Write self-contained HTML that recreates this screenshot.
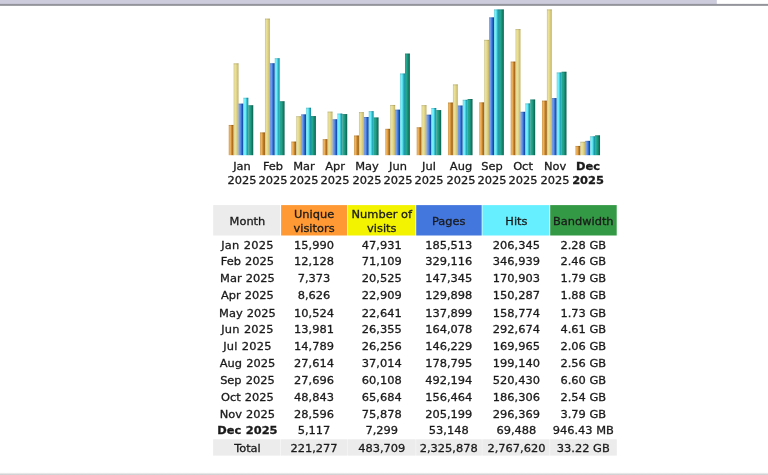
<!DOCTYPE html>
<html lang="en"><head><meta charset="utf-8"><title>Statistics - Monthly history</title>
<style>
html,body{margin:0;padding:0;background:#fff;}
body{width:768px;height:475px;position:relative;overflow:hidden;font-family:"DejaVu Sans","Liberation Sans",sans-serif;font-size:11.0px;color:#1a1a1a;-webkit-text-stroke:0.3px #1a1a1a;}
.abs{position:absolute;}
.c{position:absolute;text-align:center;white-space:nowrap;}
.lbl{position:absolute;width:40px;text-align:center;line-height:14px;white-space:nowrap;transform:scaleX(1.036);}
.hd{position:absolute;text-align:center;}
.hd span{position:absolute;left:0;right:0;line-height:14px;white-space:nowrap;transform:scaleX(1.036);}
.cell{position:absolute;text-align:center;line-height:17px;height:17px;white-space:nowrap;}
.cell span{display:block;transform:scaleX(1.036);}
b,.b{font-weight:bold;}
#wrap{position:absolute;left:0;top:0;width:768px;height:475px;overflow:hidden;}
</style></head><body><div id="wrap">
<svg class="abs" style="left:0;top:0" width="768" height="475" viewBox="0 0 768 475">
<defs>
<linearGradient id="gu" x1="0" y1="0" x2="1" y2="0"><stop offset="0" stop-color="#f0b662"/><stop offset="0.35" stop-color="#eeb05a"/><stop offset="0.56" stop-color="#cc8c34"/><stop offset="0.8" stop-color="#aa6a1a"/><stop offset="1" stop-color="#a06414"/></linearGradient>
<linearGradient id="gv" x1="0" y1="0" x2="1" y2="0"><stop offset="0" stop-color="#ebe3a0"/><stop offset="0.4" stop-color="#e9df94"/><stop offset="0.7" stop-color="#d8cc80"/><stop offset="1" stop-color="#c0b068"/></linearGradient>
<linearGradient id="gp" x1="0" y1="0" x2="1" y2="0"><stop offset="0" stop-color="#84acf2"/><stop offset="0.3" stop-color="#6e9aec"/><stop offset="0.58" stop-color="#3870d4"/><stop offset="0.82" stop-color="#1450b0"/><stop offset="1" stop-color="#0c449c"/></linearGradient>
<linearGradient id="gh" x1="0" y1="0" x2="1" y2="0"><stop offset="0" stop-color="#84f4ff"/><stop offset="0.42" stop-color="#68ecfa"/><stop offset="0.62" stop-color="#3cc4d4"/><stop offset="0.85" stop-color="#1c9cac"/><stop offset="1" stop-color="#168e9e"/></linearGradient>
<linearGradient id="gk" x1="0" y1="0" x2="1" y2="0"><stop offset="0" stop-color="#2cb49c"/><stop offset="0.35" stop-color="#22a48c"/><stop offset="0.65" stop-color="#178670"/><stop offset="1" stop-color="#0c5e4c"/></linearGradient>
<linearGradient id="gtl" x1="0" y1="0" x2="0" y2="1"><stop offset="0" stop-color="#93939b" stop-opacity="0"/><stop offset="0.38" stop-color="#93939b" stop-opacity="0.3"/><stop offset="0.47" stop-color="#93939b"/><stop offset="0.75" stop-color="#93939b"/><stop offset="1" stop-color="#93939b" stop-opacity="0"/></linearGradient>
<linearGradient id="gbl" x1="0" y1="0" x2="0" y2="1"><stop offset="0" stop-color="#ffffff"/><stop offset="1" stop-color="#c8c8cc"/></linearGradient>
</defs>
<rect x="0" y="0" width="716.8" height="4.6" fill="#ccccdd"/>
<rect x="0" y="3" width="768" height="3.2" fill="url(#gtl)"/>
<rect x="0" y="472.3" width="768" height="2.7" fill="url(#gbl)"/>
<rect x="213.20" y="205.10" width="66.90" height="30.40" fill="#ececec"/>
<rect x="281.10" y="205.10" width="66.10" height="30.40" fill="#ff9933"/>
<rect x="348.00" y="205.10" width="67.50" height="30.40" fill="#f3f300"/>
<rect x="416.20" y="205.10" width="65.50" height="30.40" fill="#4477dd"/>
<rect x="482.40" y="205.10" width="66.90" height="30.40" fill="#66f0ff"/>
<rect x="550.20" y="205.10" width="66.50" height="30.40" fill="#339944"/>
<rect x="213.20" y="439.40" width="403.50" height="16.10" fill="#f6f6f6"/>
<rect x="213.20" y="439.40" width="66.90" height="16.10" fill="#ececec"/>
<rect x="281.10" y="439.40" width="66.10" height="16.10" fill="#ececec"/>
<rect x="348.00" y="439.40" width="67.50" height="16.10" fill="#ececec"/>
<rect x="416.20" y="439.40" width="65.50" height="16.10" fill="#ececec"/>
<rect x="482.40" y="439.40" width="66.90" height="16.10" fill="#ececec"/>
<rect x="550.20" y="439.40" width="66.50" height="16.10" fill="#ececec"/>
<rect x="228.75" y="124.95" width="4.90" height="30.25" fill="url(#gu)"/>
<rect x="228.75" y="124.95" width="4.90" height="1" fill="#000" fill-opacity="0.13"/>
<rect x="228.75" y="124.95" width="0.6" height="30.25" fill="#000" fill-opacity="0.14"/>
<rect x="233.65" y="63.32" width="4.90" height="91.88" fill="url(#gv)"/>
<rect x="233.65" y="63.32" width="4.90" height="1" fill="#000" fill-opacity="0.13"/>
<rect x="233.65" y="63.32" width="0.6" height="91.88" fill="#000" fill-opacity="0.14"/>
<rect x="238.55" y="103.61" width="4.90" height="51.59" fill="url(#gp)"/>
<rect x="238.55" y="103.61" width="4.90" height="1" fill="#000" fill-opacity="0.13"/>
<rect x="238.55" y="103.61" width="0.6" height="51.59" fill="#000" fill-opacity="0.14"/>
<rect x="243.45" y="97.75" width="4.90" height="57.45" fill="url(#gh)"/>
<rect x="243.45" y="97.75" width="4.90" height="1" fill="#000" fill-opacity="0.13"/>
<rect x="243.45" y="97.75" width="0.6" height="57.45" fill="#000" fill-opacity="0.14"/>
<rect x="248.35" y="105.23" width="4.90" height="49.97" fill="url(#gk)"/>
<rect x="248.35" y="105.23" width="4.90" height="1" fill="#000" fill-opacity="0.13"/>
<rect x="248.35" y="105.23" width="0.6" height="49.97" fill="#000" fill-opacity="0.14"/>
<rect x="260.07" y="132.40" width="4.90" height="22.80" fill="url(#gu)"/>
<rect x="260.07" y="132.40" width="4.90" height="1" fill="#000" fill-opacity="0.13"/>
<rect x="260.07" y="132.40" width="0.6" height="22.80" fill="#000" fill-opacity="0.14"/>
<rect x="264.97" y="18.60" width="4.90" height="136.60" fill="url(#gv)"/>
<rect x="264.97" y="18.60" width="4.90" height="1" fill="#000" fill-opacity="0.13"/>
<rect x="264.97" y="18.60" width="0.6" height="136.60" fill="#000" fill-opacity="0.14"/>
<rect x="269.88" y="63.22" width="4.90" height="91.98" fill="url(#gp)"/>
<rect x="269.88" y="63.22" width="4.90" height="1" fill="#000" fill-opacity="0.13"/>
<rect x="269.88" y="63.22" width="0.6" height="91.98" fill="#000" fill-opacity="0.14"/>
<rect x="274.77" y="58.20" width="4.90" height="97.00" fill="url(#gh)"/>
<rect x="274.77" y="58.20" width="4.90" height="1" fill="#000" fill-opacity="0.13"/>
<rect x="274.77" y="58.20" width="0.6" height="97.00" fill="#000" fill-opacity="0.14"/>
<rect x="279.68" y="101.23" width="4.90" height="53.97" fill="url(#gk)"/>
<rect x="279.68" y="101.23" width="4.90" height="1" fill="#000" fill-opacity="0.13"/>
<rect x="279.68" y="101.23" width="0.6" height="53.97" fill="#000" fill-opacity="0.14"/>
<rect x="291.40" y="141.57" width="4.90" height="13.63" fill="url(#gu)"/>
<rect x="291.40" y="141.57" width="4.90" height="1" fill="#000" fill-opacity="0.13"/>
<rect x="291.40" y="141.57" width="0.6" height="13.63" fill="#000" fill-opacity="0.14"/>
<rect x="296.30" y="116.20" width="4.90" height="39.00" fill="url(#gv)"/>
<rect x="296.30" y="116.20" width="4.90" height="1" fill="#000" fill-opacity="0.13"/>
<rect x="296.30" y="116.20" width="0.6" height="39.00" fill="#000" fill-opacity="0.14"/>
<rect x="301.20" y="114.35" width="4.90" height="40.85" fill="url(#gp)"/>
<rect x="301.20" y="114.35" width="4.90" height="1" fill="#000" fill-opacity="0.13"/>
<rect x="301.20" y="114.35" width="0.6" height="40.85" fill="#000" fill-opacity="0.14"/>
<rect x="306.10" y="107.72" width="4.90" height="47.48" fill="url(#gh)"/>
<rect x="306.10" y="107.72" width="4.90" height="1" fill="#000" fill-opacity="0.13"/>
<rect x="306.10" y="107.72" width="0.6" height="47.48" fill="#000" fill-opacity="0.14"/>
<rect x="311.00" y="116.09" width="4.90" height="39.11" fill="url(#gk)"/>
<rect x="311.00" y="116.09" width="4.90" height="1" fill="#000" fill-opacity="0.13"/>
<rect x="311.00" y="116.09" width="0.6" height="39.11" fill="#000" fill-opacity="0.14"/>
<rect x="322.73" y="139.16" width="4.90" height="16.04" fill="url(#gu)"/>
<rect x="322.73" y="139.16" width="4.90" height="1" fill="#000" fill-opacity="0.13"/>
<rect x="322.73" y="139.16" width="0.6" height="16.04" fill="#000" fill-opacity="0.14"/>
<rect x="327.62" y="111.60" width="4.90" height="43.60" fill="url(#gv)"/>
<rect x="327.62" y="111.60" width="4.90" height="1" fill="#000" fill-opacity="0.13"/>
<rect x="327.62" y="111.60" width="0.6" height="43.60" fill="#000" fill-opacity="0.14"/>
<rect x="332.53" y="119.26" width="4.90" height="35.94" fill="url(#gp)"/>
<rect x="332.53" y="119.26" width="4.90" height="1" fill="#000" fill-opacity="0.13"/>
<rect x="332.53" y="119.26" width="0.6" height="35.94" fill="#000" fill-opacity="0.14"/>
<rect x="337.43" y="113.52" width="4.90" height="41.68" fill="url(#gh)"/>
<rect x="337.43" y="113.52" width="4.90" height="1" fill="#000" fill-opacity="0.13"/>
<rect x="337.43" y="113.52" width="0.6" height="41.68" fill="#000" fill-opacity="0.14"/>
<rect x="342.33" y="114.10" width="4.90" height="41.10" fill="url(#gk)"/>
<rect x="342.33" y="114.10" width="4.90" height="1" fill="#000" fill-opacity="0.13"/>
<rect x="342.33" y="114.10" width="0.6" height="41.10" fill="#000" fill-opacity="0.14"/>
<rect x="354.05" y="135.49" width="4.90" height="19.71" fill="url(#gu)"/>
<rect x="354.05" y="135.49" width="4.90" height="1" fill="#000" fill-opacity="0.13"/>
<rect x="354.05" y="135.49" width="0.6" height="19.71" fill="#000" fill-opacity="0.14"/>
<rect x="358.95" y="112.12" width="4.90" height="43.08" fill="url(#gv)"/>
<rect x="358.95" y="112.12" width="4.90" height="1" fill="#000" fill-opacity="0.13"/>
<rect x="358.95" y="112.12" width="0.6" height="43.08" fill="#000" fill-opacity="0.14"/>
<rect x="363.85" y="117.01" width="4.90" height="38.19" fill="url(#gp)"/>
<rect x="363.85" y="117.01" width="4.90" height="1" fill="#000" fill-opacity="0.13"/>
<rect x="363.85" y="117.01" width="0.6" height="38.19" fill="#000" fill-opacity="0.14"/>
<rect x="368.75" y="111.14" width="4.90" height="44.06" fill="url(#gh)"/>
<rect x="368.75" y="111.14" width="4.90" height="1" fill="#000" fill-opacity="0.13"/>
<rect x="368.75" y="111.14" width="0.6" height="44.06" fill="#000" fill-opacity="0.14"/>
<rect x="373.65" y="117.43" width="4.90" height="37.77" fill="url(#gk)"/>
<rect x="373.65" y="117.43" width="4.90" height="1" fill="#000" fill-opacity="0.13"/>
<rect x="373.65" y="117.43" width="0.6" height="37.77" fill="#000" fill-opacity="0.14"/>
<rect x="385.38" y="128.82" width="4.90" height="26.38" fill="url(#gu)"/>
<rect x="385.38" y="128.82" width="4.90" height="1" fill="#000" fill-opacity="0.13"/>
<rect x="385.38" y="128.82" width="0.6" height="26.38" fill="#000" fill-opacity="0.14"/>
<rect x="390.27" y="104.95" width="4.90" height="50.25" fill="url(#gv)"/>
<rect x="390.27" y="104.95" width="4.90" height="1" fill="#000" fill-opacity="0.13"/>
<rect x="390.27" y="104.95" width="0.6" height="50.25" fill="#000" fill-opacity="0.14"/>
<rect x="395.18" y="109.64" width="4.90" height="45.56" fill="url(#gp)"/>
<rect x="395.18" y="109.64" width="4.90" height="1" fill="#000" fill-opacity="0.13"/>
<rect x="395.18" y="109.64" width="0.6" height="45.56" fill="#000" fill-opacity="0.14"/>
<rect x="400.07" y="73.47" width="4.90" height="81.73" fill="url(#gh)"/>
<rect x="400.07" y="73.47" width="4.90" height="1" fill="#000" fill-opacity="0.13"/>
<rect x="400.07" y="73.47" width="0.6" height="81.73" fill="#000" fill-opacity="0.14"/>
<rect x="404.98" y="53.54" width="4.90" height="101.66" fill="url(#gk)"/>
<rect x="404.98" y="53.54" width="4.90" height="1" fill="#000" fill-opacity="0.13"/>
<rect x="404.98" y="53.54" width="0.6" height="101.66" fill="#000" fill-opacity="0.14"/>
<rect x="416.70" y="127.27" width="4.90" height="27.93" fill="url(#gu)"/>
<rect x="416.70" y="127.27" width="4.90" height="1" fill="#000" fill-opacity="0.13"/>
<rect x="416.70" y="127.27" width="0.6" height="27.93" fill="#000" fill-opacity="0.14"/>
<rect x="421.60" y="105.14" width="4.90" height="50.06" fill="url(#gv)"/>
<rect x="421.60" y="105.14" width="4.90" height="1" fill="#000" fill-opacity="0.13"/>
<rect x="421.60" y="105.14" width="0.6" height="50.06" fill="#000" fill-opacity="0.14"/>
<rect x="426.50" y="114.66" width="4.90" height="40.54" fill="url(#gp)"/>
<rect x="426.50" y="114.66" width="4.90" height="1" fill="#000" fill-opacity="0.13"/>
<rect x="426.50" y="114.66" width="0.6" height="40.54" fill="#000" fill-opacity="0.14"/>
<rect x="431.40" y="107.99" width="4.90" height="47.21" fill="url(#gh)"/>
<rect x="431.40" y="107.99" width="4.90" height="1" fill="#000" fill-opacity="0.13"/>
<rect x="431.40" y="107.99" width="0.6" height="47.21" fill="#000" fill-opacity="0.14"/>
<rect x="436.30" y="110.11" width="4.90" height="45.09" fill="url(#gk)"/>
<rect x="436.30" y="110.11" width="4.90" height="1" fill="#000" fill-opacity="0.13"/>
<rect x="436.30" y="110.11" width="0.6" height="45.09" fill="#000" fill-opacity="0.14"/>
<rect x="448.02" y="102.52" width="4.90" height="52.68" fill="url(#gu)"/>
<rect x="448.02" y="102.52" width="4.90" height="1" fill="#000" fill-opacity="0.13"/>
<rect x="448.02" y="102.52" width="0.6" height="52.68" fill="#000" fill-opacity="0.14"/>
<rect x="452.92" y="84.38" width="4.90" height="70.82" fill="url(#gv)"/>
<rect x="452.92" y="84.38" width="4.90" height="1" fill="#000" fill-opacity="0.13"/>
<rect x="452.92" y="84.38" width="0.6" height="70.82" fill="#000" fill-opacity="0.14"/>
<rect x="457.82" y="105.50" width="4.90" height="49.70" fill="url(#gp)"/>
<rect x="457.82" y="105.50" width="4.90" height="1" fill="#000" fill-opacity="0.13"/>
<rect x="457.82" y="105.50" width="0.6" height="49.70" fill="#000" fill-opacity="0.14"/>
<rect x="462.72" y="99.78" width="4.90" height="55.42" fill="url(#gh)"/>
<rect x="462.72" y="99.78" width="4.90" height="1" fill="#000" fill-opacity="0.13"/>
<rect x="462.72" y="99.78" width="0.6" height="55.42" fill="#000" fill-opacity="0.14"/>
<rect x="467.62" y="99.01" width="4.90" height="56.19" fill="url(#gk)"/>
<rect x="467.62" y="99.01" width="4.90" height="1" fill="#000" fill-opacity="0.13"/>
<rect x="467.62" y="99.01" width="0.6" height="56.19" fill="#000" fill-opacity="0.14"/>
<rect x="479.35" y="102.36" width="4.90" height="52.84" fill="url(#gu)"/>
<rect x="479.35" y="102.36" width="4.90" height="1" fill="#000" fill-opacity="0.13"/>
<rect x="479.35" y="102.36" width="0.6" height="52.84" fill="#000" fill-opacity="0.14"/>
<rect x="484.25" y="39.83" width="4.90" height="115.37" fill="url(#gv)"/>
<rect x="484.25" y="39.83" width="4.90" height="1" fill="#000" fill-opacity="0.13"/>
<rect x="484.25" y="39.83" width="0.6" height="115.37" fill="#000" fill-opacity="0.14"/>
<rect x="489.15" y="17.34" width="4.90" height="137.86" fill="url(#gp)"/>
<rect x="489.15" y="17.34" width="4.90" height="1" fill="#000" fill-opacity="0.13"/>
<rect x="489.15" y="17.34" width="0.6" height="137.86" fill="#000" fill-opacity="0.14"/>
<rect x="494.05" y="9.40" width="4.90" height="145.80" fill="url(#gh)"/>
<rect x="494.05" y="9.40" width="4.90" height="1" fill="#000" fill-opacity="0.13"/>
<rect x="494.05" y="9.40" width="0.6" height="145.80" fill="#000" fill-opacity="0.14"/>
<rect x="498.95" y="9.40" width="4.90" height="145.80" fill="url(#gk)"/>
<rect x="498.95" y="9.40" width="4.90" height="1" fill="#000" fill-opacity="0.13"/>
<rect x="498.95" y="9.40" width="0.6" height="145.80" fill="#000" fill-opacity="0.14"/>
<rect x="510.68" y="61.56" width="4.90" height="93.64" fill="url(#gu)"/>
<rect x="510.68" y="61.56" width="4.90" height="1" fill="#000" fill-opacity="0.13"/>
<rect x="510.68" y="61.56" width="0.6" height="93.64" fill="#000" fill-opacity="0.14"/>
<rect x="515.58" y="29.07" width="4.90" height="126.13" fill="url(#gv)"/>
<rect x="515.58" y="29.07" width="4.90" height="1" fill="#000" fill-opacity="0.13"/>
<rect x="515.58" y="29.07" width="0.6" height="126.13" fill="#000" fill-opacity="0.14"/>
<rect x="520.48" y="111.79" width="4.90" height="43.41" fill="url(#gp)"/>
<rect x="520.48" y="111.79" width="4.90" height="1" fill="#000" fill-opacity="0.13"/>
<rect x="520.48" y="111.79" width="0.6" height="43.41" fill="#000" fill-opacity="0.14"/>
<rect x="525.38" y="103.39" width="4.90" height="51.81" fill="url(#gh)"/>
<rect x="525.38" y="103.39" width="4.90" height="1" fill="#000" fill-opacity="0.13"/>
<rect x="525.38" y="103.39" width="0.6" height="51.81" fill="#000" fill-opacity="0.14"/>
<rect x="530.27" y="99.46" width="4.90" height="55.74" fill="url(#gk)"/>
<rect x="530.27" y="99.46" width="4.90" height="1" fill="#000" fill-opacity="0.13"/>
<rect x="530.27" y="99.46" width="0.6" height="55.74" fill="#000" fill-opacity="0.14"/>
<rect x="542.00" y="100.63" width="4.90" height="54.57" fill="url(#gu)"/>
<rect x="542.00" y="100.63" width="4.90" height="1" fill="#000" fill-opacity="0.13"/>
<rect x="542.00" y="100.63" width="0.6" height="54.57" fill="#000" fill-opacity="0.14"/>
<rect x="546.90" y="9.40" width="4.90" height="145.80" fill="url(#gv)"/>
<rect x="546.90" y="9.40" width="4.90" height="1" fill="#000" fill-opacity="0.13"/>
<rect x="546.90" y="9.40" width="0.6" height="145.80" fill="#000" fill-opacity="0.14"/>
<rect x="551.80" y="98.08" width="4.90" height="57.12" fill="url(#gp)"/>
<rect x="551.80" y="98.08" width="4.90" height="1" fill="#000" fill-opacity="0.13"/>
<rect x="551.80" y="98.08" width="0.6" height="57.12" fill="#000" fill-opacity="0.14"/>
<rect x="556.70" y="72.43" width="4.90" height="82.77" fill="url(#gh)"/>
<rect x="556.70" y="72.43" width="4.90" height="1" fill="#000" fill-opacity="0.13"/>
<rect x="556.70" y="72.43" width="0.6" height="82.77" fill="#000" fill-opacity="0.14"/>
<rect x="561.60" y="71.73" width="4.90" height="83.47" fill="url(#gk)"/>
<rect x="561.60" y="71.73" width="4.90" height="1" fill="#000" fill-opacity="0.13"/>
<rect x="561.60" y="71.73" width="0.6" height="83.47" fill="#000" fill-opacity="0.14"/>
<rect x="575.53" y="145.93" width="4.90" height="9.27" fill="url(#gu)"/>
<rect x="575.53" y="145.93" width="4.90" height="1" fill="#000" fill-opacity="0.13"/>
<rect x="575.53" y="145.93" width="0.6" height="9.27" fill="#000" fill-opacity="0.14"/>
<rect x="580.43" y="141.72" width="4.90" height="13.48" fill="url(#gv)"/>
<rect x="580.43" y="141.72" width="4.90" height="1" fill="#000" fill-opacity="0.13"/>
<rect x="580.43" y="141.72" width="0.6" height="13.48" fill="#000" fill-opacity="0.14"/>
<rect x="585.33" y="140.85" width="4.90" height="14.35" fill="url(#gp)"/>
<rect x="585.33" y="140.85" width="4.90" height="1" fill="#000" fill-opacity="0.13"/>
<rect x="585.33" y="140.85" width="0.6" height="14.35" fill="#000" fill-opacity="0.14"/>
<rect x="590.23" y="136.25" width="4.90" height="18.95" fill="url(#gh)"/>
<rect x="590.23" y="136.25" width="4.90" height="1" fill="#000" fill-opacity="0.13"/>
<rect x="590.23" y="136.25" width="0.6" height="18.95" fill="#000" fill-opacity="0.14"/>
<rect x="595.13" y="135.30" width="4.90" height="19.90" fill="url(#gk)"/>
<rect x="595.13" y="135.30" width="4.90" height="1" fill="#000" fill-opacity="0.13"/>
<rect x="595.13" y="135.30" width="0.6" height="19.90" fill="#000" fill-opacity="0.14"/>
</svg>
<div class="lbl" style="left:221.50px;top:160.20px">Jan</div>
<div class="lbl" style="left:221.50px;top:174.10px">2025</div>
<div class="lbl" style="left:252.82px;top:160.20px">Feb</div>
<div class="lbl" style="left:252.82px;top:174.10px">2025</div>
<div class="lbl" style="left:284.15px;top:160.20px">Mar</div>
<div class="lbl" style="left:284.15px;top:174.10px">2025</div>
<div class="lbl" style="left:315.48px;top:160.20px">Apr</div>
<div class="lbl" style="left:315.48px;top:174.10px">2025</div>
<div class="lbl" style="left:346.80px;top:160.20px">May</div>
<div class="lbl" style="left:346.80px;top:174.10px">2025</div>
<div class="lbl" style="left:378.12px;top:160.20px">Jun</div>
<div class="lbl" style="left:378.12px;top:174.10px">2025</div>
<div class="lbl" style="left:409.45px;top:160.20px">Jul</div>
<div class="lbl" style="left:409.45px;top:174.10px">2025</div>
<div class="lbl" style="left:440.77px;top:160.20px">Aug</div>
<div class="lbl" style="left:440.77px;top:174.10px">2025</div>
<div class="lbl" style="left:472.10px;top:160.20px">Sep</div>
<div class="lbl" style="left:472.10px;top:174.10px">2025</div>
<div class="lbl" style="left:503.42px;top:160.20px">Oct</div>
<div class="lbl" style="left:503.42px;top:174.10px">2025</div>
<div class="lbl" style="left:534.75px;top:160.20px">Nov</div>
<div class="lbl" style="left:534.75px;top:174.10px">2025</div>
<div class="lbl b" style="left:568.28px;top:160.20px">Dec</div>
<div class="lbl b" style="left:568.28px;top:174.10px">2025</div>
<div class="hd" style="left:213.20px;top:205.10px;width:66.90px;height:30.40px"><span style="top:10.1px;left:0.5px;right:-0.5px">Month</span></div>
<div class="hd" style="left:281.10px;top:205.10px;width:66.10px;height:30.40px"><span style="top:3.0px;left:0.0px;right:0.0px">Unique</span><span style="top:16.8px;left:0.0px;right:0.0px">visitors</span></div>
<div class="hd" style="left:348.00px;top:205.10px;width:67.50px;height:30.40px"><span style="top:3.0px;left:0.0px;right:0.0px">Number of</span><span style="top:16.8px;left:0.0px;right:0.0px">visits</span></div>
<div class="hd" style="left:416.20px;top:205.10px;width:65.50px;height:30.40px"><span style="top:10.1px;left:0.0px;right:0.0px">Pages</span></div>
<div class="hd" style="left:482.40px;top:205.10px;width:66.90px;height:30.40px"><span style="top:10.1px;left:0.9px;right:-0.9px">Hits</span></div>
<div class="hd" style="left:550.20px;top:205.10px;width:66.50px;height:30.40px"><span style="top:10.1px;left:0.3px;right:-0.3px">Bandwidth</span></div>
<div class="cell" style="left:213.20px;top:237.00px;width:66.90px;word-spacing:0.5px;letter-spacing:0.2px"><span style="position:relative;left:1.3px">Jan 2025</span></div>
<div class="cell" style="left:281.10px;top:237.00px;width:66.10px"><span style="position:relative;left:0.0px">15,990</span></div>
<div class="cell" style="left:348.00px;top:237.00px;width:67.50px"><span style="position:relative;left:0.0px">47,931</span></div>
<div class="cell" style="left:416.20px;top:237.00px;width:65.50px"><span style="position:relative;left:0.0px">185,513</span></div>
<div class="cell" style="left:482.40px;top:237.00px;width:66.90px"><span style="position:relative;left:0.9px">206,345</span></div>
<div class="cell" style="left:550.20px;top:237.00px;width:66.50px"><span style="position:relative;left:0.3px">2.28 GB</span></div>
<div class="cell" style="left:213.20px;top:253.00px;width:66.90px;word-spacing:0.5px"><span style="position:relative;left:0.5px">Feb 2025</span></div>
<div class="cell" style="left:281.10px;top:253.00px;width:66.10px"><span style="position:relative;left:0.0px">12,128</span></div>
<div class="cell" style="left:348.00px;top:253.00px;width:67.50px"><span style="position:relative;left:0.0px">71,109</span></div>
<div class="cell" style="left:416.20px;top:253.00px;width:65.50px"><span style="position:relative;left:0.0px">329,116</span></div>
<div class="cell" style="left:482.40px;top:253.00px;width:66.90px"><span style="position:relative;left:0.9px">346,939</span></div>
<div class="cell" style="left:550.20px;top:253.00px;width:66.50px"><span style="position:relative;left:0.3px">2.46 GB</span></div>
<div class="cell" style="left:213.20px;top:270.00px;width:66.90px;word-spacing:0.5px"><span style="position:relative;left:0.5px">Mar 2025</span></div>
<div class="cell" style="left:281.10px;top:270.00px;width:66.10px"><span style="position:relative;left:0.0px">7,373</span></div>
<div class="cell" style="left:348.00px;top:270.00px;width:67.50px"><span style="position:relative;left:0.0px">20,525</span></div>
<div class="cell" style="left:416.20px;top:270.00px;width:65.50px"><span style="position:relative;left:0.0px">147,345</span></div>
<div class="cell" style="left:482.40px;top:270.00px;width:66.90px"><span style="position:relative;left:0.9px">170,903</span></div>
<div class="cell" style="left:550.20px;top:270.00px;width:66.50px"><span style="position:relative;left:0.3px">1.79 GB</span></div>
<div class="cell" style="left:213.20px;top:287.00px;width:66.90px;word-spacing:0.5px"><span style="position:relative;left:0.5px">Apr 2025</span></div>
<div class="cell" style="left:281.10px;top:287.00px;width:66.10px"><span style="position:relative;left:0.0px">8,626</span></div>
<div class="cell" style="left:348.00px;top:287.00px;width:67.50px"><span style="position:relative;left:0.0px">22,909</span></div>
<div class="cell" style="left:416.20px;top:287.00px;width:65.50px"><span style="position:relative;left:0.0px">129,898</span></div>
<div class="cell" style="left:482.40px;top:287.00px;width:66.90px"><span style="position:relative;left:0.9px">150,287</span></div>
<div class="cell" style="left:550.20px;top:287.00px;width:66.50px"><span style="position:relative;left:0.3px">1.88 GB</span></div>
<div class="cell" style="left:213.20px;top:305.00px;width:66.90px;word-spacing:0.5px"><span style="position:relative;left:0.5px">May 2025</span></div>
<div class="cell" style="left:281.10px;top:305.00px;width:66.10px"><span style="position:relative;left:0.0px">10,524</span></div>
<div class="cell" style="left:348.00px;top:305.00px;width:67.50px"><span style="position:relative;left:0.0px">22,641</span></div>
<div class="cell" style="left:416.20px;top:305.00px;width:65.50px"><span style="position:relative;left:0.0px">137,899</span></div>
<div class="cell" style="left:482.40px;top:305.00px;width:66.90px"><span style="position:relative;left:0.9px">158,774</span></div>
<div class="cell" style="left:550.20px;top:305.00px;width:66.50px"><span style="position:relative;left:0.3px">1.73 GB</span></div>
<div class="cell" style="left:213.20px;top:321.00px;width:66.90px;word-spacing:0.5px;letter-spacing:0.2px"><span style="position:relative;left:1.3px">Jun 2025</span></div>
<div class="cell" style="left:281.10px;top:321.00px;width:66.10px"><span style="position:relative;left:0.0px">13,981</span></div>
<div class="cell" style="left:348.00px;top:321.00px;width:67.50px"><span style="position:relative;left:0.0px">26,355</span></div>
<div class="cell" style="left:416.20px;top:321.00px;width:65.50px"><span style="position:relative;left:0.0px">164,078</span></div>
<div class="cell" style="left:482.40px;top:321.00px;width:66.90px"><span style="position:relative;left:0.9px">292,674</span></div>
<div class="cell" style="left:550.20px;top:321.00px;width:66.50px"><span style="position:relative;left:0.3px">4.61 GB</span></div>
<div class="cell" style="left:213.20px;top:338.00px;width:66.90px;word-spacing:0.5px;letter-spacing:0.2px"><span style="position:relative;left:1.3px">Jul 2025</span></div>
<div class="cell" style="left:281.10px;top:338.00px;width:66.10px"><span style="position:relative;left:0.0px">14,789</span></div>
<div class="cell" style="left:348.00px;top:338.00px;width:67.50px"><span style="position:relative;left:0.0px">26,256</span></div>
<div class="cell" style="left:416.20px;top:338.00px;width:65.50px"><span style="position:relative;left:0.0px">146,229</span></div>
<div class="cell" style="left:482.40px;top:338.00px;width:66.90px"><span style="position:relative;left:0.9px">169,965</span></div>
<div class="cell" style="left:550.20px;top:338.00px;width:66.50px"><span style="position:relative;left:0.3px">2.06 GB</span></div>
<div class="cell" style="left:213.20px;top:355.00px;width:66.90px;word-spacing:0.5px"><span style="position:relative;left:0.5px">Aug 2025</span></div>
<div class="cell" style="left:281.10px;top:355.00px;width:66.10px"><span style="position:relative;left:0.0px">27,614</span></div>
<div class="cell" style="left:348.00px;top:355.00px;width:67.50px"><span style="position:relative;left:0.0px">37,014</span></div>
<div class="cell" style="left:416.20px;top:355.00px;width:65.50px"><span style="position:relative;left:0.0px">178,795</span></div>
<div class="cell" style="left:482.40px;top:355.00px;width:66.90px"><span style="position:relative;left:0.9px">199,140</span></div>
<div class="cell" style="left:550.20px;top:355.00px;width:66.50px"><span style="position:relative;left:0.3px">2.56 GB</span></div>
<div class="cell" style="left:213.20px;top:372.00px;width:66.90px;word-spacing:0.5px"><span style="position:relative;left:0.5px">Sep 2025</span></div>
<div class="cell" style="left:281.10px;top:372.00px;width:66.10px"><span style="position:relative;left:0.0px">27,696</span></div>
<div class="cell" style="left:348.00px;top:372.00px;width:67.50px"><span style="position:relative;left:0.0px">60,108</span></div>
<div class="cell" style="left:416.20px;top:372.00px;width:65.50px"><span style="position:relative;left:0.0px">492,194</span></div>
<div class="cell" style="left:482.40px;top:372.00px;width:66.90px"><span style="position:relative;left:0.9px">520,430</span></div>
<div class="cell" style="left:550.20px;top:372.00px;width:66.50px"><span style="position:relative;left:0.3px">6.60 GB</span></div>
<div class="cell" style="left:213.20px;top:389.00px;width:66.90px;word-spacing:0.5px"><span style="position:relative;left:0.5px">Oct 2025</span></div>
<div class="cell" style="left:281.10px;top:389.00px;width:66.10px"><span style="position:relative;left:0.0px">48,843</span></div>
<div class="cell" style="left:348.00px;top:389.00px;width:67.50px"><span style="position:relative;left:0.0px">65,684</span></div>
<div class="cell" style="left:416.20px;top:389.00px;width:65.50px"><span style="position:relative;left:0.0px">156,464</span></div>
<div class="cell" style="left:482.40px;top:389.00px;width:66.90px"><span style="position:relative;left:0.9px">186,306</span></div>
<div class="cell" style="left:550.20px;top:389.00px;width:66.50px"><span style="position:relative;left:0.3px">2.54 GB</span></div>
<div class="cell" style="left:213.20px;top:406.00px;width:66.90px;word-spacing:0.5px"><span style="position:relative;left:0.5px">Nov 2025</span></div>
<div class="cell" style="left:281.10px;top:406.00px;width:66.10px"><span style="position:relative;left:0.0px">28,596</span></div>
<div class="cell" style="left:348.00px;top:406.00px;width:67.50px"><span style="position:relative;left:0.0px">75,878</span></div>
<div class="cell" style="left:416.20px;top:406.00px;width:65.50px"><span style="position:relative;left:0.0px">205,199</span></div>
<div class="cell" style="left:482.40px;top:406.00px;width:66.90px"><span style="position:relative;left:0.9px">296,369</span></div>
<div class="cell" style="left:550.20px;top:406.00px;width:66.50px"><span style="position:relative;left:0.3px">3.79 GB</span></div>
<div class="cell b" style="left:213.20px;top:422.00px;width:66.90px;word-spacing:0.5px"><span style="position:relative;left:0.5px">Dec 2025</span></div>
<div class="cell" style="left:281.10px;top:422.00px;width:66.10px"><span style="position:relative;left:0.0px">5,117</span></div>
<div class="cell" style="left:348.00px;top:422.00px;width:67.50px"><span style="position:relative;left:0.0px">7,299</span></div>
<div class="cell" style="left:416.20px;top:422.00px;width:65.50px"><span style="position:relative;left:0.0px">53,148</span></div>
<div class="cell" style="left:482.40px;top:422.00px;width:66.90px"><span style="position:relative;left:0.9px">69,488</span></div>
<div class="cell" style="left:550.20px;top:422.00px;width:66.50px"><span style="position:relative;left:0.3px">946.43 MB</span></div>
<div class="cell tot" style="left:213.20px;top:439.40px;width:66.90px;height:16.10px;line-height:19.70px"><span style="position:relative;left:0.5px">Total</span></div>
<div class="cell tot" style="left:281.10px;top:439.40px;width:66.10px;height:16.10px;line-height:19.70px"><span style="position:relative;left:0.0px">221,277</span></div>
<div class="cell tot" style="left:348.00px;top:439.40px;width:67.50px;height:16.10px;line-height:19.70px"><span style="position:relative;left:0.0px">483,709</span></div>
<div class="cell tot" style="left:416.20px;top:439.40px;width:65.50px;height:16.10px;line-height:19.70px"><span style="position:relative;left:0.0px">2,325,878</span></div>
<div class="cell tot" style="left:482.40px;top:439.40px;width:66.90px;height:16.10px;line-height:19.70px"><span style="position:relative;left:0.9px">2,767,620</span></div>
<div class="cell tot" style="left:550.20px;top:439.40px;width:66.50px;height:16.10px;line-height:19.70px"><span style="position:relative;left:0.3px">33.22 GB</span></div>
</div></body></html>
